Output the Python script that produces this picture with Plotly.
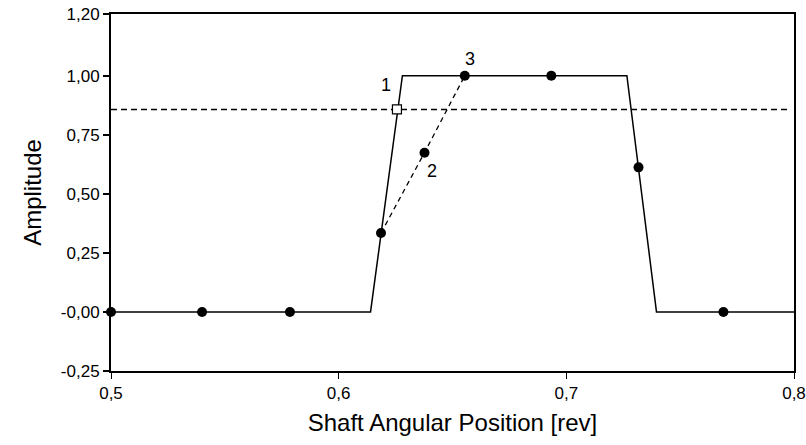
import plotly.graph_objects as go

# Ideal pulse profile (solid line)
pulse_x = [0.500, 0.614, 0.628, 0.7266, 0.7396, 0.800]
pulse_y = [0.0, 0.0, 1.0, 1.0, 0.0, 0.0]

# Sampled amplitudes (filled dots)
sample_x = [0.500, 0.540, 0.5786, 0.6186, 0.6554, 0.6934, 0.7317, 0.769]
sample_y = [0.0, 0.0, 0.0, 0.334, 1.0, 1.0, 0.612, 0.0]

# Linear interpolation between two samples (dashed chord)
chord_x = [0.6186, 0.6377, 0.6554]
chord_y = [0.334, 0.674, 1.0]

# Threshold level and its crossing with the ideal edge
threshold = 0.857
threshold_x = [0.500, 0.797]
crossing_x = [0.6256]
crossing_y = [0.857]

# Numbered markers: 1 = true crossing, 2 = interpolated, 3 = next sample
label_text = ["1", "2", "3"]
label_x = [0.6256, 0.6377, 0.6554]
label_y = [0.857, 0.674, 1.0]
label_dx = [-11, 7, 5]
label_dy = [24, -18, 17]

x_range = [0.5, 0.8]
x_tick_vals = [0.5, 0.6, 0.7, 0.8]
x_tick_text = ["0,5", "0,6", "0,7", "0,8"]

y_range = [-0.25, 1.261]
y_tick_vals = [-0.25, 0.0, 0.25, 0.5, 0.75, 1.0, 1.261]
y_tick_text = ["-0,25", "-0,00", "0,25", "0,50", "0,75", "1,00", "1,20"]

FONT = "Liberation Sans, Arial, sans-serif"

fig = go.Figure()

fig.add_trace(go.Scatter(
    x=threshold_x, y=[threshold, threshold], mode="lines",
    line=dict(color="black", width=1.6, dash="6px,4px"),
    hoverinfo="skip", showlegend=False))

fig.add_trace(go.Scatter(
    x=pulse_x, y=pulse_y, mode="lines",
    line=dict(color="black", width=1.5),
    showlegend=False))

fig.add_trace(go.Scatter(
    x=chord_x, y=chord_y, mode="lines",
    line=dict(color="black", width=1.3, dash="5px,4px"),
    showlegend=False))

fig.add_trace(go.Scatter(
    x=sample_x, y=sample_y, mode="markers",
    marker=dict(color="black", size=10, symbol="circle"),
    cliponaxis=False, showlegend=False))

fig.add_trace(go.Scatter(
    x=[chord_x[1]], y=[chord_y[1]], mode="markers",
    marker=dict(color="black", size=10, symbol="circle"),
    showlegend=False))

fig.add_trace(go.Scatter(
    x=crossing_x, y=crossing_y, mode="markers",
    marker=dict(color="white", size=9, symbol="square",
                line=dict(color="black", width=1.2)),
    showlegend=False))

for t, lx, ly, dx, dy in zip(label_text, label_x, label_y, label_dx, label_dy):
    fig.add_annotation(x=lx, y=ly, text=t, showarrow=False,
                       xshift=dx, yshift=dy,
                       font=dict(family=FONT, size=18, color="black"))

fig.update_layout(
    width=806, height=445,
    margin=dict(l=111, r=12, t=14, b=74),
    paper_bgcolor="white", plot_bgcolor="white",
    font=dict(family=FONT, color="black"),
)

fig.update_xaxes(
    range=x_range, tickvals=x_tick_vals, ticktext=x_tick_text,
    automargin=False,
    showline=True, mirror=True, linecolor="black", linewidth=2,
    ticks="outside", ticklen=6, tickwidth=1, tickcolor="black",
    showgrid=False, zeroline=False,
    tickfont=dict(family=FONT, size=17),
    title=dict(text="Shaft Angular Position [rev]",
               font=dict(family=FONT, size=24), standoff=12),
)

fig.update_yaxes(
    range=y_range, tickvals=y_tick_vals, ticktext=y_tick_text,
    automargin=False,
    showline=True, mirror=True, linecolor="black", linewidth=2,
    ticks="outside", ticklen=6, tickwidth=1.5, tickcolor="black",
    showgrid=False, zeroline=False,
    tickfont=dict(family=FONT, size=17),
    title=dict(text="Amplitude",
               font=dict(family=FONT, size=24), standoff=12),
)

fig.write_html("out.html")
